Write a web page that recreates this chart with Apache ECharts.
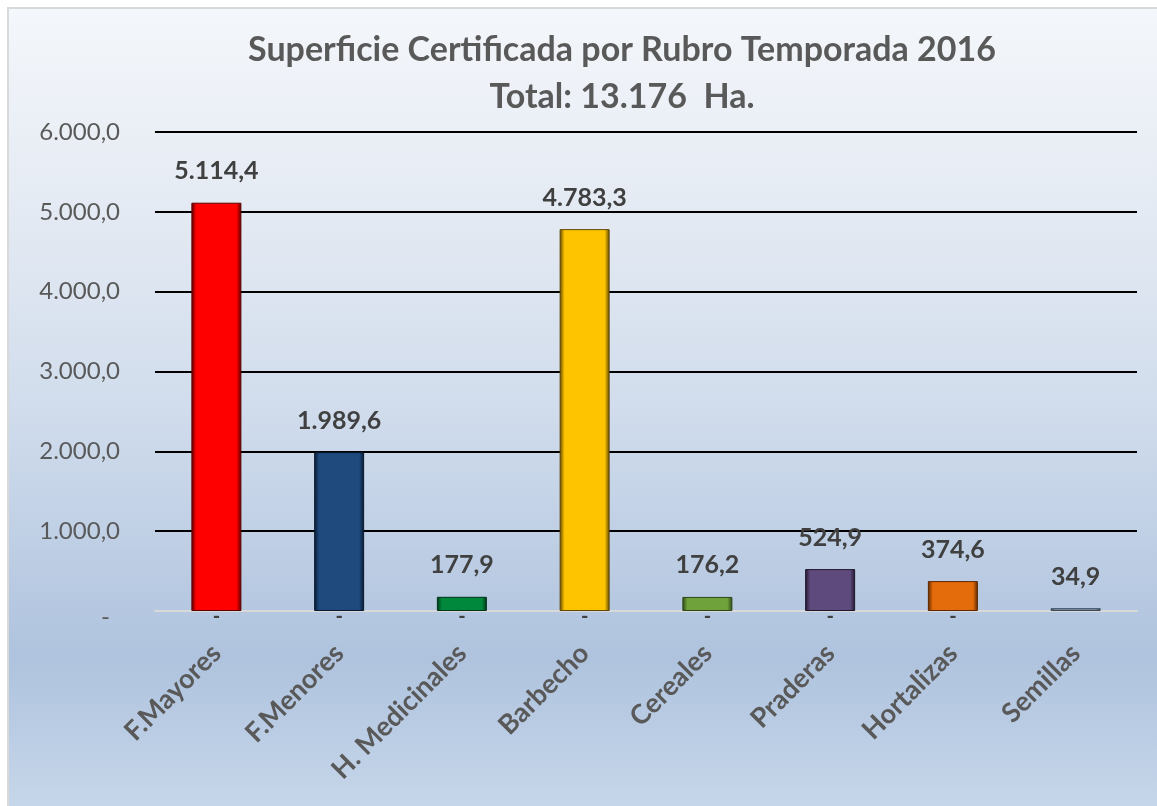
<!DOCTYPE html>
<html>
<head>
<meta charset="utf-8">
<script src="https://cdn.jsdelivr.net/npm/echarts@6/dist/echarts.min.js"></script>
<style>
html,body{margin:0;padding:0;background:#fff;}
#chart{width:1157px;height:806px;}
</style>
</head>
<body>
<div id="chart"></div>
<script>
// ---- data ----
var categories = ['F.Mayores', 'F.Menores', 'H. Medicinales', 'Barbecho', 'Cereales', 'Praderas', 'Hortalizas', 'Semillas'];
var values = [5114.4, 1989.6, 177.9, 4783.3, 176.2, 524.9, 374.6, 34.9];
var dashValues = [0, 0, 0, 0, 0, 0, 0, null];
var titleLines = ['Superficie Certificada por Rubro Temporada 2016', 'Total: 13.176  Ha.'];
var yMin = 0, yMax = 6000, yStep = 1000;

// ---- styles ----
var baseColors = ['#ff0000', '#1f4a7e', '#00883c', '#ffc400', '#6fa23a', '#5f4a7e', '#e46c0a', '#7f93ad'];
var darkColors = ['#5a0000', '#08182e', '#003317', '#5e4600', '#2c4516', '#1f162c', '#5c2700', '#3c4a5c'];

var FONT2 = 'Lato, "Open Sans", sans-serif';

function fmtES(v) {
  if (v === 0) return '-';
  var parts = v.toFixed(1).split('.');
  var intPart = parts[0].replace(/\B(?=(\d{3})+(?!\d))/g, '.');
  return intPart + ',' + parts[1];
}

var chart = echarts.init(document.getElementById('chart'), null, {renderer: 'canvas'});

var barData = values.map(function (v, i) {
  return {
    value: v,
    itemStyle: {
      color: new echarts.graphic.LinearGradient(0, 0, 1, 0, [
        {offset: 0, color: darkColors[i]},
        {offset: 0.1, color: baseColors[i]},
        {offset: 0.9, color: baseColors[i]},
        {offset: 1, color: darkColors[i]}
      ]),
      borderColor: darkColors[i],
      borderWidth: 1
    }
  };
});

var option = {
  backgroundColor: '#ffffff',
  animation: false,
  graphic: [
    {type: 'rect', z: -10, silent: true, shape: {x: 7, y: 7, width: 1160, height: 810}, style: {fill: '#d9d9d9'}},
    {type: 'rect', z: -9, silent: true, shape: {x: 9, y: 9, width: 1160, height: 810},
      style: {fill: new echarts.graphic.LinearGradient(0, 0, 0, 1, [
        {offset: 0, color: '#f4f7fb'},
        {offset: 0.25, color: '#e4eaf3'},
        {offset: 0.5, color: '#d0dcec'},
        {offset: 0.8, color: '#afc3de'},
        {offset: 1, color: '#c8d8eb'}
      ])}}
  ],
  title: {
    text: titleLines.join('\n'),
    left: 617,
    textAlign: 'center',
    top: 22,
    textStyle: {
      fontFamily: FONT2,
      fontWeight: 'bold',
      fontSize: 34,
      lineHeight: 47,
      color: '#595959'
    }
  },
  grid: {left: 155, right: 20, top: 132, bottom: 195, containLabel: false},
  xAxis: {
    type: 'category',
    data: categories,
    axisLine: {show: true, lineStyle: {color: '#d9d9d9', width: 2}},
    axisTick: {show: false},
    axisLabel: {
      rotate: 45,
      margin: 38,
      interval: 0,
      fontFamily: FONT2,
      fontWeight: 'bold',
      fontSize: 27,
      color: '#595959'
    }
  },
  yAxis: {
    type: 'value',
    min: yMin,
    max: yMax,
    interval: yStep,
    axisLine: {show: false},
    axisTick: {show: false},
    splitLine: {show: true, lineStyle: {color: '#000000', width: 2}},
    axisLabel: {
      margin: 35,
      fontFamily: FONT2,
      fontSize: 24,
      color: '#595959',
      formatter: function (v) { return v === 0 ? '{d|-}' : fmtES(v); },
      rich: {d: {fontFamily: FONT2, fontSize: 24, color: '#595959', padding: [12, 10, 0, 0]}}
    }
  },
  series: [
    {
      type: 'bar',
      data: barData,
      barWidth: 50,
      z: 3,
      label: {
        show: true,
        position: 'top',
        distance: 19,
        fontFamily: FONT2,
        fontWeight: 'bold',
        fontSize: 25,
        color: '#404040',
        formatter: function (p) { return fmtES(p.value); }
      }
    },
    {
      type: 'bar',
      data: dashValues,
      barWidth: 50,
      barGap: '-100%',
      z: 2,
      itemStyle: {color: 'transparent'},
      label: {
        show: true,
        position: 'bottom',
        distance: -4,
        fontFamily: FONT2,
        fontWeight: 'bold',
        fontSize: 20,
        color: '#404040',
        formatter: function (p) { return p.value === 0 ? '-' : ''; }
      }
    }
  ]
};
chart.setOption(option);
</script>
</body>
</html>
